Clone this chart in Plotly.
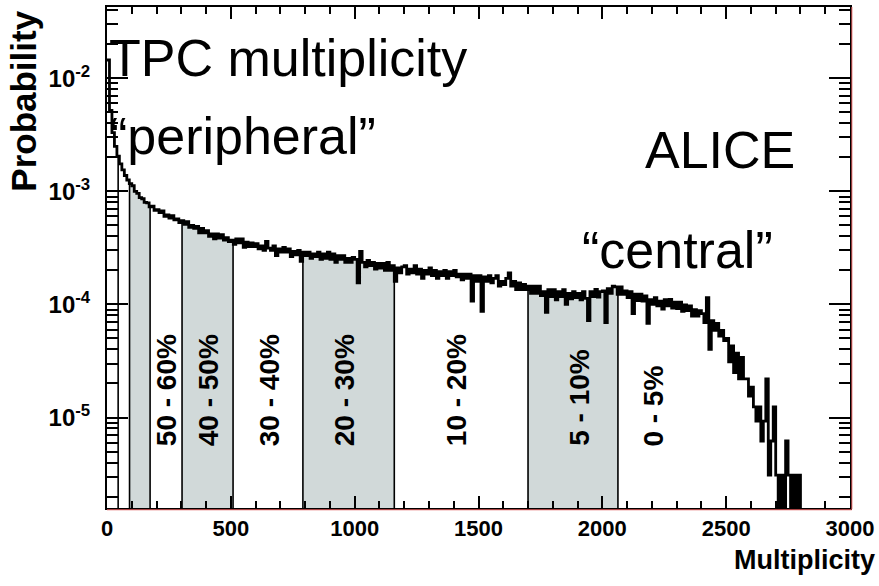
import plotly.graph_objects as go

BIN_WIDTH = 10  # multiplicity units per histogram bin

# Probability per 10-unit multiplicity bin
prob_0_500 = [
    1.45e-2, 5.2e-3, 3.3e-3, 2.5e-3, 2.05e-3, 1.75e-3, 1.55e-3, 1.38e-3, 1.26e-3, 1.17e-3,
    1.12e-3, 1.0e-3, 9.6e-4, 8.8e-4, 8.6e-4, 8.0e-4, 7.9e-4, 7.3e-4, 7.4e-4, 6.8e-4,
    6.9e-4, 6.5e-4, 6.7e-4, 6.0e-4, 6.2e-4, 5.8e-4, 6.1e-4, 5.6e-4, 5.7e-4, 5.3e-4,
    5.5e-4, 5.1e-4, 5.4e-4, 4.8e-4, 5.0e-4, 4.7e-4, 4.9e-4, 4.3e-4, 4.7e-4, 4.3e-4,
    4.5e-4, 4.0e-4, 4.2e-4, 3.8e-4, 4.2e-4, 3.85e-4, 4.15e-4, 3.7e-4, 3.9e-4, 3.6e-4,
]
prob_500_1000 = [
    3.7e-4, 3.4e-4, 3.8e-4, 3.5e-4, 3.8e-4, 3.2e-4, 3.55e-4, 3.25e-4, 3.5e-4, 3.25e-4,
    3.45e-4, 3.1e-4, 3.3e-4, 3.0e-4, 3.6e-4, 3.15e-4, 3.0e-4, 3.3e-4, 2.7e-4, 3.1e-4,
    2.9e-4, 3.2e-4, 2.9e-4, 3.1e-4, 2.65e-4, 2.95e-4, 2.75e-4, 3.0e-4, 2.4e-4, 2.9e-4,
    2.7e-4, 2.9e-4, 2.55e-4, 2.8e-4, 2.65e-4, 2.9e-4, 2.5e-4, 2.8e-4, 2.55e-4, 2.9e-4,
    2.5e-4, 2.8e-4, 2.35e-4, 2.7e-4, 2.5e-4, 2.7e-4, 2.35e-4, 2.55e-4, 2.35e-4, 2.6e-4,
]
prob_1000_1500 = [
    2.5e-4, 1.55e-4, 2.95e-4, 2.35e-4, 2.15e-4, 2.45e-4, 2.2e-4, 2.35e-4, 2.05e-4, 2.3e-4,
    2.1e-4, 2.3e-4, 2.0e-4, 2.35e-4, 2.0e-4, 2.2e-4, 1.6e-4, 2.1e-4, 1.9e-4, 2.15e-4,
    2.2e-4, 1.85e-4, 2.05e-4, 1.9e-4, 2.2e-4, 1.85e-4, 2.05e-4, 1.7e-4, 2.0e-4, 1.85e-4,
    2.1e-4, 1.8e-4, 2.0e-4, 1.7e-4, 1.95e-4, 1.8e-4, 2.0e-4, 1.7e-4, 1.95e-4, 1.8e-4,
    2.0e-4, 1.75e-4, 1.85e-4, 1.65e-4, 1.85e-4, 1.7e-4, 1.85e-4, 1.07e-4, 1.8e-4, 1.6e-4,
]
prob_1500_2000 = [
    1.8e-4, 8.7e-5, 1.75e-4, 1.6e-4, 1.8e-4, 1.55e-4, 1.7e-4, 1.8e-4, 1.45e-4, 1.6e-4,
    1.5e-4, 1.7e-4, 1.9e-4, 1.45e-4, 1.6e-4, 1.35e-4, 1.55e-4, 1.35e-4, 1.5e-4, 1.35e-4,
    1.45e-4, 1.25e-4, 1.45e-4, 1.25e-4, 1.45e-4, 1.2e-4, 1.3e-4, 8.5e-5, 1.35e-4, 1.17e-4,
    1.35e-4, 1.1e-4, 1.3e-4, 1.17e-4, 1.35e-4, 1.0e-4, 1.25e-4, 1.12e-4, 1.3e-4, 1.15e-4,
    1.25e-4, 1.1e-4, 1.3e-4, 1.13e-4, 7.2e-5, 1.3e-4, 1.17e-4, 1.36e-4, 1.16e-4, 1.3e-4,
]
prob_2000_2500 = [
    1.32e-4, 6.9e-5, 1.38e-4, 1.25e-4, 1.45e-4, 1.43e-4, 1.23e-4, 1.43e-4, 1.23e-4, 1.32e-4,
    1.15e-4, 1.3e-4, 8.3e-5, 1.23e-4, 1.08e-4, 1.23e-4, 1.07e-4, 1.19e-4, 6.8e-5, 1.1e-4,
    1.0e-4, 1.15e-4, 9.7e-5, 1.07e-4, 9.1e-5, 1.1e-4, 9.7e-5, 1.11e-4, 9.3e-5, 1.05e-4,
    9.2e-5, 1.05e-4, 8.7e-5, 9.9e-5, 8.8e-5, 9.7e-5, 7.9e-5, 9.0e-5, 7.9e-5, 8.8e-5,
    8.3e-5, 6.9e-5, 1.15e-4, 4.0e-5, 7.2e-5, 5.9e-5, 6.8e-5, 5.25e-5, 5.9e-5, 4.8e-5,
]
prob_2500_2800 = [
    5.0e-5, 3.1e-5, 4.3e-5, 2.5e-5, 3.7e-5, 2.2e-5, 3.4e-5, 2.2e-5, 2.2e-5, 1.55e-5,
    1.86e-5, 1.24e-5, 9.3e-6, 1.24e-5, 6.2e-6, 9.3e-6, 2.2e-5, 3.1e-6, 6.2e-6, 1.24e-5,
    3.1e-6, 0, 3.1e-6, 0, 6.2e-6, 3.1e-6, 0, 3.1e-6, 0, 3.1e-6,
]

# Centrality class boundaries (multiplicity)
class_boundaries = [45, 91, 174, 303, 509, 791, 1160, 1700, 2063]
shaded_classes = [(91, 174), (303, 509), (791, 1160), (1700, 2063)]
class_labels = ["50 - 60%", "40 - 50%", "30 - 40%", "20 - 30%", "10 - 20%", "5 - 10%", "0 - 5%"]
label_x = [238, 408, 654, 957, 1409, 1910, 2208]

x_ticks = [0, 500, 1000, 1500, 2000, 2500, 3000]
y_ticks = [1e-5, 1e-4, 1e-3, 1e-2]
y_ticktext = ["10<sup>-5</sup>", "10<sup>-4</sup>", "10<sup>-3</sup>", "10<sup>-2</sup>"]

probs = prob_0_500 + prob_500_1000 + prob_1000_1500 + prob_1500_2000 + prob_2000_2500 + prob_2500_2800
edges = [i * BIN_WIDTH for i in range(len(probs) + 1)]
FLOOR = 1e-9  # empty bins are drawn below the visible range


def pv(p):
    return p if p > 0 else FLOOR


def value_at(m):
    idx = min(int(m // BIN_WIDTH), len(probs) - 1)
    return pv(probs[idx])


FONT = "Liberation Sans, Arial, Helvetica, sans-serif"
fig = go.Figure()

# shaded centrality classes
for a, b in shaded_classes:
    xs = [a, a]
    ys = [FLOOR, value_at(a)]
    for i, e in enumerate(edges[:-1]):
        if a < e < b:
            xs.append(e)
            ys.append(pv(probs[i]))
    xs += [b, b]
    ys += [ys[-1], FLOOR]
    fig.add_trace(go.Scatter(x=xs, y=ys, mode="lines", line=dict(width=0, shape="hv"),
                             fill="toself", fillcolor="#d1d9d9", hoverinfo="skip", showlegend=False))

# class boundary lines
bx, by = [], []
for b in class_boundaries:
    bx += [b, b, None]
    by += [FLOOR, value_at(b), None]
fig.add_trace(go.Scatter(x=bx, y=by, mode="lines", line=dict(color="black", width=1.6),
                         hoverinfo="skip", showlegend=False))

# histogram
fig.add_trace(go.Scatter(x=edges, y=[pv(p) for p in probs] + [FLOOR], mode="lines",
                         line=dict(color="black", width=2.8, shape="hv"), showlegend=False))

annotations = []
for txt, lx in zip(class_labels, label_x):
    annotations.append(dict(x=lx, y=0.1193, xref="x", yref="paper", text=txt, textangle=-90,
                            showarrow=False, xanchor="center", yanchor="bottom",
                            font=dict(family=FONT, size=28, color="black", weight="bold")))

big = dict(family=FONT, size=52, color="black")
annotations += [
    dict(x=0.0, y=0.8976, xref="paper", yref="paper", text="TPC multiplicity", showarrow=False,
         xanchor="left", yanchor="middle", font=big),
    dict(x=0.002, y=0.7435, xref="paper", yref="paper", text="\u201cperipheral\u201d", showarrow=False,
         xanchor="left", yanchor="middle", font=big),
    dict(x=0.7214, y=0.7137, xref="paper", yref="paper", text="ALICE", showarrow=False,
         xanchor="left", yanchor="middle", font=big),
    dict(x=0.6366, y=0.514, xref="paper", yref="paper", text="\u201ccentral\u201d", showarrow=False,
         xanchor="left", yanchor="middle", font=big),
    dict(x=1.036, y=-0.103, xref="paper", yref="paper", text="Multiplicity", showarrow=False,
         xanchor="right", yanchor="middle",
         font=dict(family=FONT, size=27, color="black", weight="bold")),
    dict(x=-0.1117, y=0.811, xref="paper", yref="paper", text="Probability", showarrow=False,
         textangle=-90, xanchor="center", yanchor="middle",
         font=dict(family=FONT, size=35, color="black", weight="bold")),
]

minor_y = [k * d for d in [1e-6, 1e-5, 1e-4, 1e-3, 1e-2] for k in range(2, 10)]

# thin red edge just outside the right and bottom frame, as in the original image
shapes = [
    dict(type="line", xref="paper", yref="paper", x0=1.0025, x1=1.0025, y0=-0.002, y1=1,
         line=dict(color="#e05a5a", width=1)),
    dict(type="line", xref="paper", yref="paper", x0=0, x1=1.0025, y0=-0.0035, y1=-0.0035,
         line=dict(color="#e05a5a", width=1)),
]

fig.update_layout(
    width=879, height=586,
    margin=dict(l=107, r=29, t=5, b=78),
    paper_bgcolor="white", plot_bgcolor="white",
    showlegend=False,
    annotations=annotations,
    shapes=shapes,
    xaxis=dict(range=[0, 3000], tickvals=x_ticks, ticks="inside", ticklen=12, tickwidth=1.5,
               tickcolor="black", mirror="allticks", showline=True, linewidth=2, linecolor="black",
               showgrid=False, zeroline=False, ticklabelstandoff=0,
               minor=dict(dtick=100, tick0=0, ticks="inside", ticklen=7, tickwidth=1.5, tickcolor="black"),
               tickfont=dict(family=FONT, size=22, color="black", weight="bold")),
    yaxis=dict(type="log", range=[-5.80, -1.37], tickvals=y_ticks, ticktext=y_ticktext,
               ticks="inside", ticklen=21, tickwidth=1.5, tickcolor="black", mirror="allticks",
               showline=True, linewidth=2, linecolor="black", showgrid=False, zeroline=False,
               ticklabelstandoff=10,
               minor=dict(tickvals=minor_y, ticks="inside", ticklen=11, tickwidth=1.5, tickcolor="black"),
               tickfont=dict(family=FONT, size=24, color="black", weight="bold")),
)

fig.write_html("out.html", config={"displayModeBar": False},
               post_script="document.body.style.margin='0';")
